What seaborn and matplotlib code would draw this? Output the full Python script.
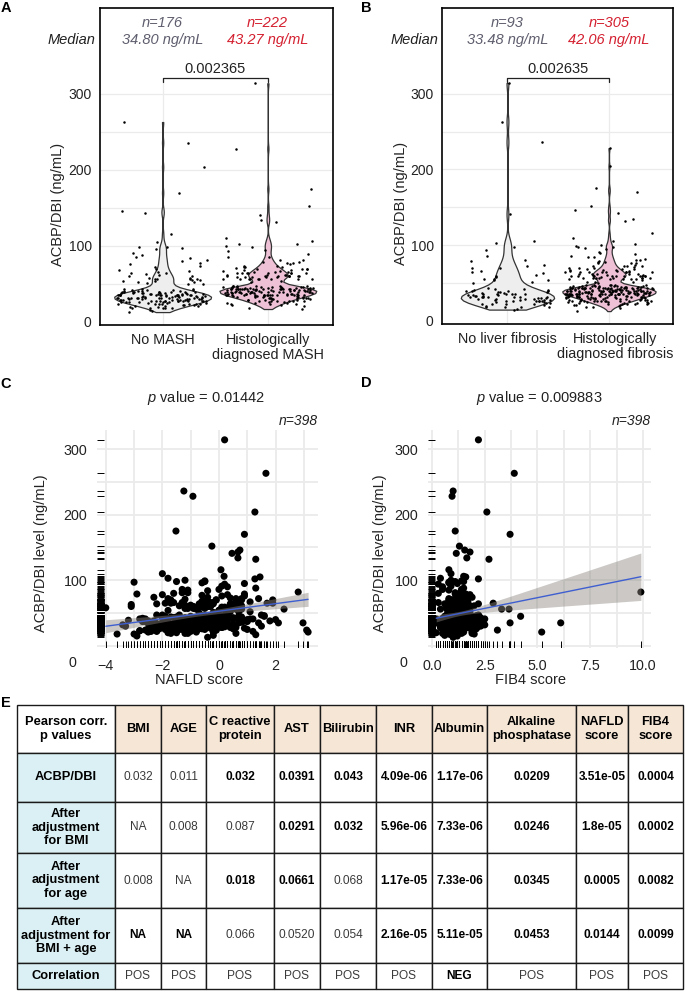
import numpy as np
import pandas as pd
import matplotlib
matplotlib.use("Agg")
import matplotlib.pyplot as plt
import matplotlib.transforms as mtransforms
import seaborn as sns

sns.set_theme(style="white")
plt.rcParams["font.family"] = ["Liberation Sans", "DejaVu Sans"]
plt.rcParams["mathtext.fontset"] = "custom"
plt.rcParams["mathtext.it"] = "Liberation Sans:italic"
plt.rcParams["mathtext.rm"] = "Liberation Sans"
np.random.seed(7)

W, H = 685, 991

# ---------------- data ----------------
# patients ordered in 4 blocks: noMASH/noFib, noMASH/Fib, MASH/noFib, MASH/Fib
block_sizes = [60, 116, 33, 189]

acbp = [
    # block 1
    263, 236, 105,
    22, 28, 35, 19, 41, 30, 26, 33, 56, 15,
    29, 38, 24, 31, 66, 27, 36, 18, 50, 32,
    25, 74, 30, 21, 39, 34, 28, 86, 23, 37,
    31, 16, 42, 29, 63, 26, 33, 20, 58, 35,
    27, 31, 97, 24, 30, 40, 22, 70, 28, 34,
    19, 54, 32, 26, 80, 38, 29,
    # block 2
    204, 170, 146, 143, 116, 98,
    34, 27, 52, 38, 22, 61, 31, 40, 29, 36,
    76, 25, 42, 33, 18, 57, 37, 30, 67, 28,
    39, 50, 21, 35, 84, 32, 26, 57, 41, 35,
    24, 37, 64, 30, 43, 19, 36, 96, 33, 27,
    55, 38, 31, 72, 23, 40, 34, 29, 60, 37,
    26, 52, 35, 13, 41, 32, 91, 28, 39, 36,
    65, 30, 25, 43, 38, 33, 78, 21, 56, 35,
    31, 40, 27, 36, 99, 42, 29, 34, 58, 38,
    23, 37, 54, 32, 68, 28, 41, 35, 20, 51,
    39, 33, 81, 26, 36, 43, 30, 62, 37, 24,
    42, 34, 29, 88, 38, 31, 55, 35, 27, 40,
    # block 3
    314, 141, 103,
    36, 28, 52, 61, 33, 40, 25, 70, 38, 31,
    56, 22, 42, 35, 79, 29, 39, 64, 34, 54,
    27, 37, 94, 41, 32, 59, 19, 43, 36, 72,
    # block 4
    228, 175, 152, 134, 132, 110, 106, 102, 82, 65, 56, 56, 45, 35, 24, 21, 35,
    44, 38, 62, 31, 47, 72, 35, 41, 29, 66,
    57, 26, 43, 37, 79, 40, 33, 60, 45, 22,
    39, 68, 46, 34, 42, 85, 30, 59, 36, 64,
    41, 28, 74, 44, 38, 47, 25, 61, 43, 35,
    70, 40, 32, 46, 98, 37, 59, 42, 27, 65,
    45, 36, 43, 77, 39, 30, 57, 62, 41, 33,
    60, 24, 44, 38, 71, 46, 35, 42, 90, 40,
    31, 47, 64, 37, 43, 29, 67, 45, 39, 57,
    42, 81, 34, 60, 41, 36, 46, 17, 66, 44,
    38, 62, 45, 33, 73, 40, 47, 27, 43, 59,
    35, 44, 70, 39, 46, 32, 100, 42, 61, 37,
    57, 26, 43, 66, 40, 36, 45, 76, 34, 60,
    41, 47, 30, 64, 44, 38, 86, 42, 28, 46,
    39, 68, 45, 35, 59, 43, 23, 62, 40, 37,
    72, 44, 31, 57, 42, 36, 65, 46, 95, 41,
    33, 47, 39, 67, 43, 29, 60, 45, 38, 78,
    42, 34, 57, 40, 64, 37, 46, 25, 44, 70,
    36, 43,
]

nafld = [
    # block 1
    1.66, -1.24, 1.45,
    -1.0, -1.7, -2.4, -1.2, -0.5, -3.3, -2.1, -1.4, -0.8, -2.9,
    -1.9, -0.9, -2.6, -1.5, -0.3, -2.2, -1.1, -3.6, -0.7, -1.6,
    -1.4, -2.3, 0.4, -2.5, -1.0, -2.0, 0.1, -1.3, -2.8, -0.6,
    -2.0, -0.2, -2.7, -1.2, -3.1, -0.9, -1.5, -1.8, -4.0, -0.4,
    -1.9, -0.8, -3.0, -0.1, -2.1, -1.3, -2.4, -1.7, 0.6, -2.2,
    -1.1, -1.8, -3.4, -0.6, -1.6, -2.5, 0.2,
    # block 2
    1.27, 0.9, 0.74, 0.67, 0.07, -1.5,
    -0.5, -2.3, 0.4, -1.1, -0.2, -1.4, -0.7, -0.8, -1.6, 0.1,
    0.9, -1.9, -0.3, -1.0, -3.0, 0.2, -0.6, -1.2, 0.6, -1.5,
    -1.8, 0.3, -0.2, -0.8, -0.4, 0.0, -2.5, -0.9, 1.2, -1.1,
    -0.1, -2.7, -0.7, 1.5, -1.0, -1.7, -2.0, -0.6, 0.5, -1.3,
    0.2, -0.5, -1.2, 0.8, -2.2, -0.3, -0.9, -1.4, 0.4, -0.6,
    -1.1, 1.1, -1.5, -0.4, -0.7, -1.8, 0.1, -0.8, -3.2, -0.2,
    -1.9, 0.0, -0.5, -1.0, 0.9, -2.4, 0.3, -0.8, 0.6, -1.2,
    -0.1, -1.4, -0.9, 0.2, -0.5, -1.1, -0.3, -1.6, -0.7, 1.8,
    -0.8, -2.6, 0.0, -2.1, -0.6, 0.1, -1.2, 0.7, -1.5, -0.2,
    -0.7, -0.1, -1.3, 0.5, -0.6, -2.0, -0.4, -1.0, 1.0, -1.7,
    -0.2, -0.9, -1.5, 1.3, -0.5, -1.2, 0.2, -0.8, -1.7, -0.3,
    # block 3
    0.2, 0.46, -1.8,
    -0.4, -1.8, 0.7, -0.5, -1.1, -0.6, -1.3, -0.1, 0.3, -0.9,
    0.1, -2.2, -0.2, -0.8, 0.9, -1.4, -0.5, 0.4, -1.0, 0.0,
    -0.3, -1.2, 0.2, -2.8, -0.4, -0.9, 0.6, -1.6, -0.7, 1.4,
    # block 4
    -0.92, -1.52, -0.25, 0.67, 1.3, -2.0, 0.18, 1.27, 2.8, 1.9, 0.8, 2.3, 1.6, 2.97, 3.1, 3.15, 2.1,
    0.0, 0.9, -1.2, -0.6, -2.0, 0.6, -0.3, -0.9, 0.4, -1.6,
    -0.5, -1.4, 0.3, -0.1, -2.9, 0.1, -2.4, -0.4, -1.0, 1.2,
    -1.3, -0.5, 1.6, -1.8, 0.2, -1.1, 0.5, -0.7, 0.8, -0.2,
    -2.6, 0.4, -0.4, -1.5, -0.6, -2.2, 1.0, -0.3, -0.8, 0.1,
    -0.1, 2.0, -1.0, 0.2, -0.5, -2.3, 0.6, 0.7, -0.7, -1.7,
    -1.9, 0.1, 0.5, -0.6, -1.4, -0.2, -1.1, -0.4, 1.1, -0.9,
    -0.3, -0.8, 0.8, -0.1, -1.2, -0.5, 1.4, -0.7, 0.3, -2.7,
    -1.6, 0.0, 0.6, -1.0, -0.4, -2.1, 0.7, -0.2, -0.9, 0.2,
    -0.6, -1.1, 0.0, -3.1, 0.5, -0.3, -0.5, 1.3, -1.3, 0.3,
    -2.3, -0.4, 0.2, -0.8, 0.4, -0.1, -1.4, 0.9, -0.7, 0.1,
    -0.1, -1.7, 1.9, -0.5, 0.3, -1.0, -1.2, -0.3, 0.8, -0.9,
    0.6, -0.7, -1.2, -0.2, 1.0, -1.5, 0.3, 0.1, -2.5, -0.4,
    -0.9, 1.5, -0.5, -2.2, -0.1, -0.6, 0.0, -1.9, 0.5, -0.3,
    -0.8, 0.7, -0.2, -1.3, 0.2, -0.4, -2.8, 0.4, -0.7, -1.1,
    -1.8, 0.1, -0.5, -1.2, 0.6, -0.1, 1.7, -0.6, 0.9, -0.3,
    0.3, -0.2, -1.0, 1.1, -1.4, 0.0, -0.9, 0.7, -0.4, -2.0,
    -0.5, -1.3, 0.1, -0.7, 0.5, -1.1, -0.1, -2.5, -0.3, 0.8,
    -1.2, -0.4,
]

fib4 = [
    # block 1
    3.9, 1.0, 1.6,
    0.8, 0.7, 1.0, 1.4, 0.2, 0.6, 0.9, 1.1, 0.4, 1.2,
    0.9, 1.5, 0.7, 1.0, 0.3, 1.3, 0.9, 0.8, 1.1, 0.6,
    0.7, 1.9, 0.5, 1.1, 0.6, 1.7, 0.8, 0.5, 1.2, 1.0,
    1.4, 0.6, 1.0, 0.4, 1.3, 1.0, 0.9, 0.2, 1.2, 0.8,
    2.1, 0.6, 0.8, 1.1, 0.5, 1.6, 0.7, 1.0, 0.7, 0.9,
    0.6, 1.8, 1.1, 0.8, 0.3, 1.3, 0.9,
    # block 2
    2.6, 3.7, 1.55, 1.8, 0.8, 1.1,
    0.7, 1.9, 1.1, 1.5, 1.0, 1.3, 1.2, 0.9, 1.6, 1.4,
    1.2, 0.6, 1.7, 1.3, 2.0, 1.1, 1.0, 2.2, 0.8, 1.5,
    0.9, 1.8, 1.5, 1.3, 1.4, 1.6, 0.7, 1.3, 2.5, 1.2,
    0.6, 1.3, 2.2, 1.2, 1.0, 1.9, 1.4, 0.8, 1.1, 1.6,
    1.1, 2.1, 0.8, 1.5, 1.2, 1.0, 1.8, 1.4, 1.7, 1.4,
    1.5, 1.2, 2.1, 1.0, 1.4, 1.3, 0.9, 1.6, 1.3, 0.5,
    1.6, 1.4, 1.2, 2.3, 0.7, 1.7, 1.3, 1.9, 1.1, 0.9,
    1.6, 1.1, 1.2, 1.8, 1.4, 1.1, 1.5, 1.0, 1.3, 2.0,
    1.3, 0.7, 1.6, 0.8, 1.4, 1.7, 1.2, 2.0, 1.0, 1.5,
    1.3, 1.6, 1.1, 1.9, 1.4, 0.9, 1.4, 1.2, 2.4, 0.9,
    1.7, 1.3, 1.0, 1.5, 1.5, 1.2, 1.0, 1.9, 1.4, 1.1,
    # block 3
    2.2, 1.15, 0.4,
    0.8, 0.4, 1.2, 0.7, 0.6, 0.7, 0.5, 0.9, 1.1, 0.6,
    0.7, 1.4, 0.5, 0.8, 1.1, 0.6, 0.9, 1.0, 0.3, 0.9,
    0.6, 1.0, 0.3, 0.9, 0.7, 1.3, 0.5, 0.7, 1.6, 0.8,
    # block 4
    0.95, 1.1, 1.3, 1.65, 2.7, 0.9, 1.5, 2.2, 9.9, 2.9, 3.3, 3.65, 4.2, 3.7, 3.1, 5.2, 6.1,
    1.4, 1.9, 0.9, 1.2, 0.7, 1.7, 1.3, 1.0, 1.6, 0.8,
    1.1, 2.1, 1.2, 0.9, 1.6, 1.4, 0.5, 1.5, 0.6, 1.3,
    1.8, 1.5, 1.0, 1.7, 1.1, 0.8, 2.3, 0.9, 1.3, 1.4,
    1.4, 0.6, 1.6, 1.2, 0.9, 1.2, 0.7, 2.0, 1.3, 1.0,
    0.8, 1.4, 2.4, 1.0, 1.5, 1.2, 0.7, 1.7, 1.8, 1.1,
    1.1, 0.8, 1.5, 1.6, 1.2, 0.9, 1.4, 1.0, 1.3, 2.0,
    1.0, 1.9, 1.4, 0.9, 1.2, 2.2, 1.1, 1.6, 0.5, 1.3,
    1.8, 1.4, 1.1, 1.5, 0.8, 1.4, 1.7, 1.0, 1.3, 0.7,
    1.0, 1.4, 0.4, 1.7, 1.3, 1.2, 2.1, 0.9, 1.6, 1.2,
    1.4, 0.9, 1.9, 1.1, 1.5, 0.7, 1.3, 1.5, 1.0, 1.6,
    1.4, 0.8, 1.0, 1.2, 1.6, 2.5, 0.9, 1.3, 1.8, 1.1,
    1.7, 1.2, 1.0, 1.4, 2.0, 0.9, 1.6, 1.5, 0.6, 1.3,
    1.1, 2.2, 1.2, 0.7, 1.4, 1.2, 1.4, 0.8, 1.6, 1.3,
    0.9, 1.5, 1.3, 0.5, 1.6, 1.2, 1.0, 1.1, 1.8, 1.4,
    1.7, 1.4, 2.3, 1.2, 1.9, 1.3, 0.8, 1.5, 1.2, 1.0,
    1.3, 0.7, 1.6, 1.4, 1.0, 2.0, 0.9, 1.4, 1.1, 1.8,
    1.2, 1.7, 1.0, 1.4, 0.6, 1.3, 1.8, 1.2, 0.9, 1.5,
    1.3, 1.0,
]

mash_groups = ["No MASH", "Histologically\ndiagnosed MASH"]
fib_groups = ["No liver fibrosis", "Histologically\ndiagnosed fibrosis"]
mash_n = ["n=176", "n=222"]
mash_median = ["34.80 ng/mL", "43.27 ng/mL"]
fib_n = ["n=93", "n=305"]
fib_median = ["33.48 ng/mL", "42.06 ng/mL"]
mash_p = "0.002365"
fib_p = "0.002635"
nafld_p = "0.01442"
fib4_p = "0.009883"
n_total = "n=398"

col_headers = ["Pearson corr.\np values", "BMI", "AGE", "C reactive\nprotein", "AST", "Bilirubin",
               "INR", "Albumin", "Alkaline\nphosphatase", "NAFLD\nscore", "FIB4\nscore"]
row_headers = ["ACBP/DBI", "After\nadjustment\nfor BMI", "After\nadjustment\nfor age",
               "After\nadjustment for\nBMI + age", "Correlation"]
pvals = [
    ["0.032", "0.011", "0.032", "0.0391", "0.043", "4.09e-06", "1.17e-06", "0.0209", "3.51e-05", "0.0004"],
    ["NA", "0.008", "0.087", "0.0291", "0.032", "5.96e-06", "7.33e-06", "0.0246", "1.8e-05", "0.0002"],
    ["0.008", "NA", "0.018", "0.0661", "0.068", "1.17e-05", "7.33e-06", "0.0345", "0.0005", "0.0082"],
    ["NA", "NA", "0.066", "0.0520", "0.054", "2.16e-05", "5.11e-05", "0.0453", "0.0144", "0.0099"],
    ["POS", "POS", "POS", "POS", "POS", "POS", "NEG", "POS", "POS", "POS"],
]
bold_mask = [
    [0, 0, 1, 1, 1, 1, 1, 1, 1, 1],
    [0, 0, 0, 1, 1, 1, 1, 1, 1, 1],
    [0, 0, 1, 1, 0, 1, 1, 1, 1, 1],
    [1, 1, 0, 0, 0, 1, 1, 1, 1, 1],
    [0, 0, 0, 0, 0, 0, 1, 0, 0, 0],
]

block = np.repeat(np.arange(4), block_sizes)
df = pd.DataFrame({
    "acbp": acbp, "nafld": nafld, "fib4": fib4,
    "mash": np.where(block >= 2, mash_groups[1], mash_groups[0]),
    "fib": np.where(block % 2 == 1, fib_groups[1], fib_groups[0]),
})

# ---------------- figure ----------------
fig = plt.figure(figsize=(W / 100, H / 100), dpi=100)
fig.patch.set_facecolor("white")


def px_axes(l, t, r, b):
    return fig.add_axes([l / W, 1 - b / H, (r - l) / W, (b - t) / H])


def ftext(x, y, s, **kw):
    kw.setdefault("ha", "center")
    kw.setdefault("va", "center")
    return fig.text(x / W, 1 - y / H, s, **kw)


GRID = "#ebebeb"
TXT = "#222222"
NGRAY = "#5e5e6e"
NRED = "#d42030"


def violin_panel(box, col, order, xlim, ylab_x, ntexts, medtexts, ptext, xc, pval_x, median_x,
                 label_shift):
    ax = px_axes(*box)
    for v in range(50, 301, 50):
        ax.axhline(v, color=GRID, lw=0.9, zorder=0)
    ax.vlines([0, 1], -10, 320, color=GRID, lw=0.9, zorder=0)
    sns.violinplot(data=df, x=col, y="acbp", order=order, hue=col, hue_order=order,
                   palette=["#eeeeee", "#f5b9d6"], legend=False, cut=0, inner=None,
                   linewidth=0.9, linecolor="#333333", width=0.92, density_norm="area",
                   bw_adjust=0.45, ax=ax)
    sns.stripplot(data=df, x=col, y="acbp", order=order, color="black", size=1.8,
                  jitter=0.43, ax=ax, zorder=3)
    ax.set_xlim(*xlim)
    ax.set_ylim(-4, 413)
    ax.set_yticks([0, 100, 200, 300])
    ax.tick_params(axis="y", length=0, labelsize=10, pad=6, colors=TXT)
    ax.tick_params(axis="x", length=0, labelsize=10.4, pad=6, colors=TXT)
    labs = ax.get_xticklabels()
    for lab in labs:
        lab.set_linespacing(1.1)
    labs[1].set_transform(labs[1].get_transform() +
                          mtransforms.ScaledTranslation(label_shift / 100, 0, fig.dpi_scale_trans))
    ax.set_xlabel("")
    ax.set_ylabel("ACBP/DBI (ng/mL)", fontsize=10.5, color=TXT)
    ax.yaxis.set_label_coords(ylab_x, 0.38)
    for sp in ax.spines.values():
        sp.set_visible(True)
        sp.set_color("black")
        sp.set_linewidth(1.2)
    # significance bracket
    ax.plot([0, 0, 1, 1], [316, 321, 321, 316], color="#222222", lw=0.9, zorder=4)
    ftext(pval_x, 69, ptext, fontsize=10.5, color=TXT)
    ftext(median_x, 40, "Median", fontsize=10.5, style="italic", color=TXT, ha="right")
    for i in range(2):
        c = NGRAY if i == 0 else NRED
        ftext(xc[i], 23, ntexts[i], fontsize=10.5, style="italic", color=c)
        ftext(xc[i], 40, medtexts[i], fontsize=10.5, style="italic", color=c)
    return ax


violin_panel((100, 8, 333, 325), "mash", mash_groups, (-0.595, 1.619), -0.15,
             mash_n, mash_median, mash_p, (162.5, 267.5), 215, 95, 0)
violin_panel((442, 8, 673, 324), "fib", fib_groups, (-0.645, 1.631), -0.147,
             fib_n, fib_median, fib_p, (507.5, 609), 558, 438, 6)


def lm_band(ax, xcol):
    # analytic 95% confidence band of the least-squares fit (as in geom_smooth(method="lm"))
    x = df[xcol].to_numpy(float)
    y = df["acbp"].to_numpy(float)
    n = len(x)
    slope, icpt = np.polyfit(x, y, 1)
    grid = np.linspace(x.min(), x.max(), 120)
    yhat = icpt + slope * grid
    s = np.sqrt(((y - (icpt + slope * x)) ** 2).sum() / (n - 2))
    sxx = ((x - x.mean()) ** 2).sum()
    se = s * np.sqrt(1 / n + (grid - x.mean()) ** 2 / sxx)
    ax.fill_between(grid, yhat - 1.966 * se, yhat + 1.966 * se, color="#8c8680",
                    alpha=0.45, lw=0, zorder=2.2)


def scatter_panel(box, xcol, xlim, xticks, xticklabels, xminor, xlabel, ptext, ylab_x,
                  title_x, zero_x):
    ax = px_axes(*box)
    ax.set_facecolor("white")
    sns.scatterplot(data=df, x=xcol, y="acbp", color="black", s=26, edgecolor="none",
                    ax=ax, zorder=2)
    sns.rugplot(data=df, x=xcol, height=0.03, color="black", linewidth=0.7,
                expand_margins=False, ax=ax)
    sns.rugplot(data=df, y="acbp", height=0.03, color="black", linewidth=0.7,
                expand_margins=False, ax=ax)
    lm_band(ax, xcol)
    sns.regplot(data=df, x=xcol, y="acbp", scatter=False, ci=None, color="#3f5fd0",
                line_kws={"color": "#3f5fd0", "lw": 1.0, "zorder": 3}, ax=ax)
    ax.set_xlim(*xlim)
    ax.set_ylim(-3.3, 329)
    ax.set_xticks(xticks)
    ax.set_xticklabels(xticklabels)
    ax.set_xticks(xminor, minor=True)
    ax.set_yticks([100, 200, 300])
    ax.set_yticks([0, 50, 150, 250], minor=True)
    ax.grid(True, which="both", color=GRID, lw=1.3)
    ax.set_axisbelow(True)
    ax.tick_params(which="both", length=0, labelsize=10.3, colors=TXT)
    ax.tick_params(axis="x", pad=8)
    ax.tick_params(axis="y", pad=7)
    for sp in ax.spines.values():
        sp.set_visible(False)
    ax.set_xlabel(xlabel, fontsize=10.5, color=TXT)
    ax.xaxis.set_label_coords(0.46, -0.115)
    ax.set_ylabel("ACBP/DBI level (ng/mL)", fontsize=10.5, color=TXT)
    ax.yaxis.set_label_coords(ylab_x, 0.436)
    l, t, r, b = box
    ftext(title_x, 398, r"$p$ value = " + ptext, fontsize=10.5, color=TXT)
    ftext(r, 421, n_total, fontsize=10, style="italic", color=TXT, ha="right")
    ftext(zero_x, 663, "0", fontsize=10.3, color=TXT)
    return ax


scatter_panel((97, 430, 318, 648), "nafld", (-4.31, 3.50), [-4, -2, 0, 2],
              ["\u22124", "\u22122", "0", "2"], [-3, -1, 1, 3], "NAFLD score", nafld_p,
              -0.222, 206, 72)
scatter_panel((428, 430, 651, 648), "fib4", (-0.19, 10.38), [0, 2.5, 5, 7.5, 10],
              ["0.0", "2.5", "5.0", "7.5", "10.0"], [1.25, 3.75, 6.25, 8.75], "FIB4 score",
              fib4_p, -0.184, 539, 403)

# ---------------- table E ----------------
axT = px_axes(17, 705, 683, 989)
axT.axis("off")
cell_text = [col_headers] + [[row_headers[i]] + pvals[i] for i in range(len(row_headers))]
col_w = [98, 46, 45, 68, 46, 56, 56, 55, 89, 52, 55]
row_h = [48, 49, 51, 55, 55, 26]
tab = axT.table(cellText=cell_text, cellLoc="center", bbox=[0, 0, 1, 1])
tab.auto_set_font_size(False)
for (r, c), cell in tab.get_celld().items():
    cell.set_width(col_w[c])
    cell.set_height(row_h[r])
    cell.set_edgecolor("#1a1a1a")
    cell.set_linewidth(1.0)
    txt = cell.get_text()
    txt.set_linespacing(1.15)
    if r == 0:
        cell.set_facecolor("white" if c == 0 else "#f5e6d6")
        txt.set_fontweight("bold")
        txt.set_fontsize(9.3)
        txt.set_color("black")
    elif c == 0:
        cell.set_facecolor("#dbf0f4")
        txt.set_fontweight("bold")
        txt.set_fontsize(9.3)
        txt.set_color("black")
    else:
        cell.set_facecolor("white")
        txt.set_fontsize(8.6)
        if bold_mask[r - 1][c - 1]:
            txt.set_fontweight("bold")
            txt.set_color("black")
        else:
            txt.set_color("#3a3a3a")

# panel letters
for letter, (x, y) in {"A": (6, 8), "B": (366, 8), "C": (6, 384), "D": (366, 383),
                       "E": (6, 703)}.items():
    ftext(x, y, letter, fontsize=10.5, fontweight="bold", color="black")

fig.savefig("out.png", dpi=100, facecolor="white")
